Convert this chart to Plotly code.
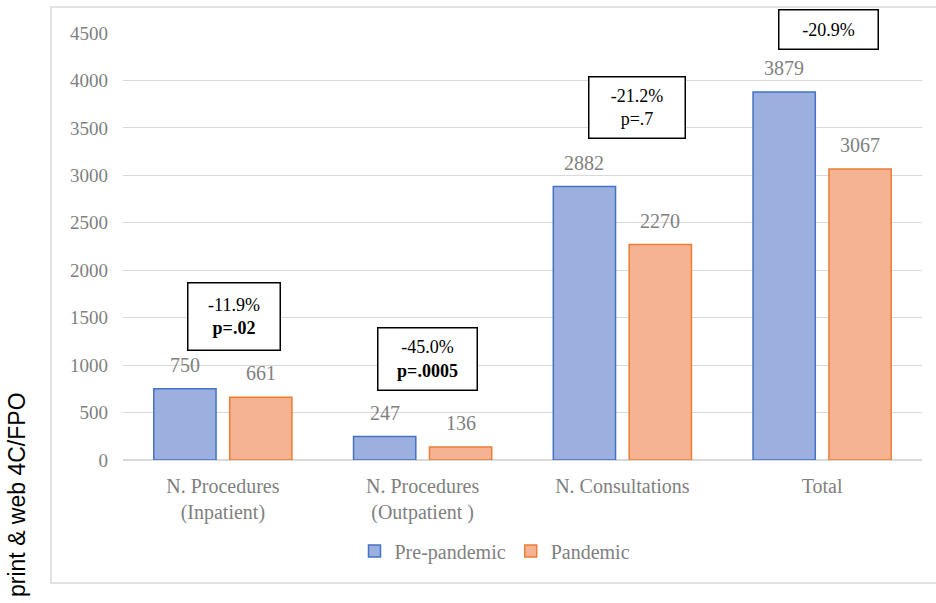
import plotly.graph_objects as go

categories = ["N. Procedures<br>(Inpatient)", "N. Procedures<br>(Outpatient )",
              "N. Consultations", "Total"]
pre_pandemic = [750, 247, 2882, 3879]
pandemic = [661, 136, 2270, 3067]
change_labels = ["-11.9%<br><b>p=.02</b>", "-45.0%<br><b>p=.0005</b>",
                 "-21.2%<br>p=.7", "-20.9%"]
y_ticks = [0, 500, 1000, 1500, 2000, 2500, 3000, 3500, 4000, 4500]

SERIF = "Liberation Serif, Times New Roman, serif"
GRAY = "#7f7f7f"

L, R, T, B = 123, 14, 33, 143
W, H = 936, 603
pw, ph = W - L - R, H - T - B
BAR_OFFSET = 38  # px from category centre to each bar centre

fig = go.Figure()
series = [("Pre-pandemic", pre_pandemic, "#9cb0df", "#4472c4", -BAR_OFFSET),
          ("Pandemic", pandemic, "#f6b394", "#ed7d31", BAR_OFFSET)]
for name, values, fill, edge, shift in series:
    fig.add_trace(go.Bar(
        name=name, x=categories, y=values,
        marker=dict(color=fill, line=dict(color=edge, width=1.5)),
    ))
    # value labels above each bar
    for cat, v in zip(categories, values):
        fig.add_annotation(
            x=cat, y=v, xref="x", yref="y", text=str(v), showarrow=False,
            xshift=shift, yshift=11, xanchor="center", yanchor="bottom",
            font=dict(family=SERIF, size=20, color=GRAY),
        )

# boxed percentage-change callouts: (pixel x centre, pixel y centre, width, height)
box_specs = [(233.5, 316, 93, 68), (427, 358.5, 100, 63),
             (636.5, 108, 97, 62), (828, 30, 100, 40)]
for label, (cx, cy, bw, bh) in zip(change_labels, box_specs):
    fig.add_annotation(
        text=label, xref="paper", yref="paper",
        x=(cx - L) / pw, y=(H - B - cy) / ph,
        xanchor="center", yanchor="middle", showarrow=False,
        width=bw - 2, height=bh - 2, borderpad=0,
        bordercolor="black", borderwidth=1.5, bgcolor="white",
        font=dict(family=SERIF, size=18, color="black"),
    )

# vertical side caption
fig.add_annotation(
    text="print & web 4C/FPO", xref="paper", yref="paper",
    x=(17 - L) / pw, y=(H - B - 494) / ph, textangle=-90,
    showarrow=False, xanchor="center", yanchor="middle",
    font=dict(family="Liberation Sans, Arial, sans-serif", size=23, color="black"),
)

# light outer chart frame
fig.add_shape(
    type="rect", xref="paper", yref="paper", layer="below",
    x0=(51 - L) / pw, x1=(940 - L) / pw,
    y0=(H - B - 583) / ph, y1=(H - B - 7) / ph,
    line=dict(color="#d9d9d9", width=1.5), fillcolor="rgba(0,0,0,0)",
)

fig.update_layout(
    width=W, height=H, barmode="group", bargap=0.24, bargroupgap=0.18,
    margin=dict(l=L, r=R, t=T, b=B),
    paper_bgcolor="white", plot_bgcolor="white",
    font=dict(family=SERIF, color=GRAY),
    showlegend=True,
    legend=dict(orientation="h", x=(495 - L) / pw, y=(H - B - 551) / ph,
                xanchor="center", yanchor="middle",
                font=dict(family=SERIF, size=20, color=GRAY),
                itemwidth=30, tracegroupgap=0),
    xaxis=dict(tickfont=dict(family=SERIF, size=20, color=GRAY),
               showline=False, ticks="", ticklabelstandoff=12),
    yaxis=dict(range=[0, 4500], tickvals=y_ticks, showgrid=True,
               gridcolor="#d9d9d9", gridwidth=1, zeroline=True,
               zerolinecolor="#d9d9d9", zerolinewidth=1.5,
               tickfont=dict(family=SERIF, size=19, color=GRAY),
               ticklabelstandoff=14, showline=False),
)

fig.write_html("out.html")
